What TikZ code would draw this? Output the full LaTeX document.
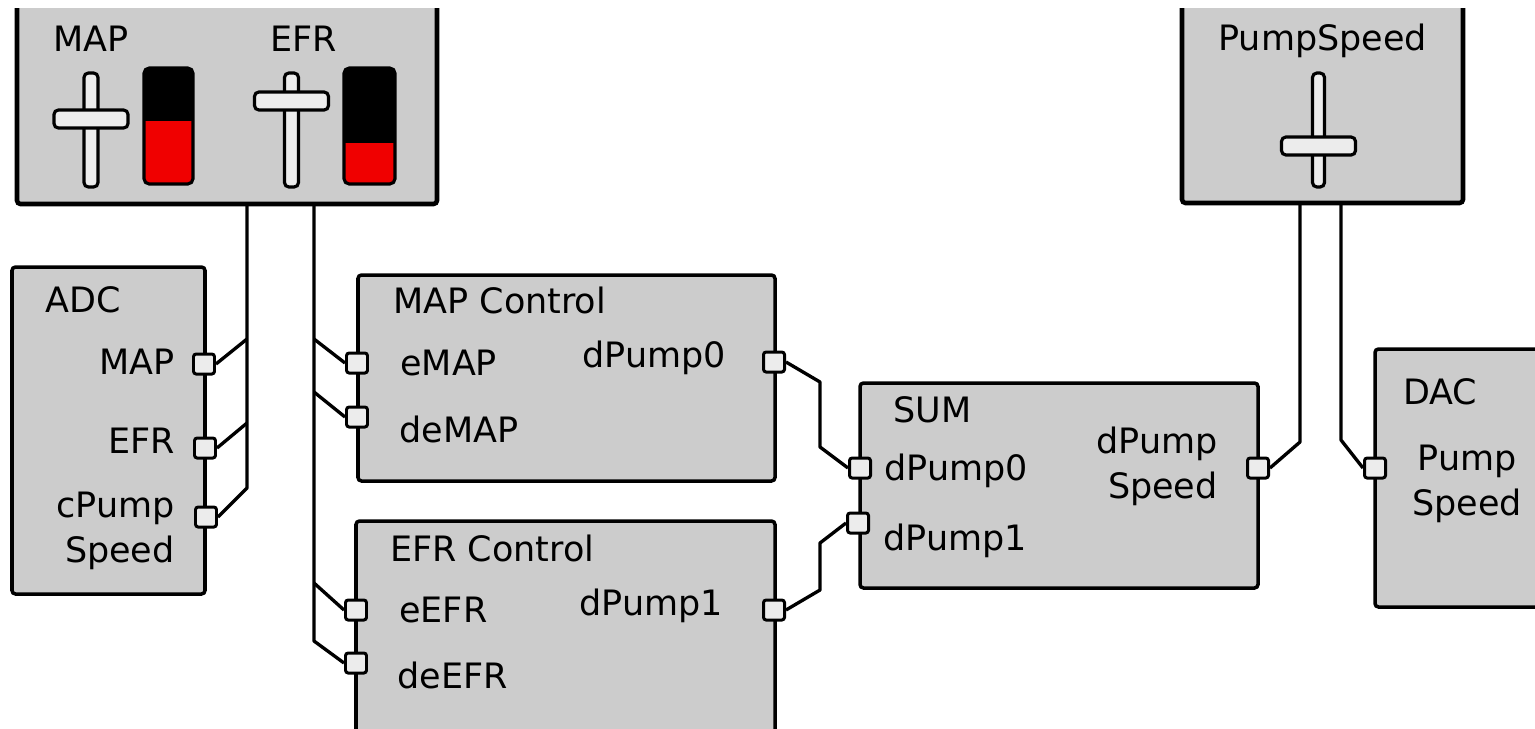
\documentclass[tikz,border=0pt]{standalone}
\usepackage{fontspec}
\setmainfont{DejaVu Sans}
\usepackage{tikz}
\usetikzlibrary{calc}
\definecolor{block-gray}{RGB}{204,204,204}
\definecolor{knob-gray}{RGB}{236,236,236}
\definecolor{meter-red}{RGB}{240,0,0}
\tikzstyle{block}=[draw, line width=2pt, fill=block-gray, rounded corners=2pt]
\tikzstyle{panel}=[draw, line width=2.6pt, fill=block-gray, rounded corners=2pt]
\tikzstyle{port}=[draw, line width=1.7pt, fill=knob-gray, rounded corners=1.5pt, minimum width=0.42cm, minimum height=0.4cm, inner sep=0pt]
\tikzstyle{wire}=[line width=1.9pt, line join=round]
\tikzstyle{knob}=[draw, line width=1.8pt, fill=knob-gray, rounded corners=2.5pt]
\tikzstyle{lbl}=[inner sep=0pt, font=\fontsize{19.9}{25.6}\selectfont]
\newcommand{\sliderNknob}[5]{
	\draw[knob] (#1-#2,73) rectangle (#1+#2,187);
	\draw[knob] (#1-37,#3) rectangle (#1+37,#4);
	\coordinate (#5) at (#1,#3);
}
\newcommand{\meterNbar}[3]{
	\begin{scope}
		\clip[rounded corners=3pt] (#1,68) rectangle (#2,184);
		\fill[black] (#1,68) rectangle (#2,184);
		\fill[meter-red] (#1,#3) rectangle (#2,184);
	\end{scope}
	\draw[line width=1.8pt, rounded corners=3pt] (#1,68) rectangle (#2,184);
}

\begin{document}
\begin{tikzpicture}[x=0.02cm, y=-0.02cm]
	\useasboundingbox (0,0) rectangle (1535,728);
	\clip (0,8) rectangle (1535,728);
	% input panels
	\draw[panel] (17,-20) rectangle (437,204);
	\draw[panel] (1182,-20) rectangle (1463,203);
	\node[lbl, anchor=base west] (panelMap) at (53,51) {MAP};
	\node[lbl, anchor=base west] (panelEfr) at (270,51) {EFR};
	\node[lbl, anchor=base west] (panelPump) at (1218,50) {PumpSpeed};
	\sliderNknob{91}{7}{110}{128}{knobMap}
	\meterNbar{144}{193}{121}
	\sliderNknob{291.5}{7}{92}{110}{knobEfr}
	\meterNbar{344}{395}{143}
	\sliderNknob{1318.5}{6}{137}{155}{knobPump}
	% blocks
	\draw[block] (12,267) rectangle (205,594);
	\draw[block] (358,275) rectangle (775,481);
	\draw[block] (356,521) rectangle (775,760);
	\draw[block] (860,383) rectangle (1258,588);
	\draw[block] (1375,349) rectangle (1580,607);
	% titles
	\node[lbl, anchor=base west] (adcTitle) at (45,312) {ADC};
	\node[lbl, anchor=base west] (mapCtlTitle) at (393,313) {MAP Control};
	\node[lbl, anchor=base west] (efrCtlTitle) at (390,561) {EFR Control};
	\node[lbl, anchor=base west] (sumTitle) at (893,422) {SUM};
	\node[lbl, anchor=base west] (dacTitle) at (1403,404) {DAC};
	% port labels
	\node[lbl, anchor=base east] (adcMapLbl) at (175,374) {MAP};
	\node[lbl, anchor=base east] (adcEfrLbl) at (175,453) {EFR};
	\node[lbl, anchor=base east, align=right] (adcPumpLbl) at (175,562) {cPump\\Speed};
	\node[lbl, anchor=base west] (eMapLbl) at (400,375) {eMAP};
	\node[lbl, anchor=base west] (deMapLbl) at (399,442) {deMAP};
	\node[lbl, anchor=base east] (dPumpZeroLbl) at (726,367) {dPump0};
	\node[lbl, anchor=base west] (eEfrLbl) at (399,622) {eEFR};
	\node[lbl, anchor=base west] (deEfrLbl) at (397,688) {deEFR};
	\node[lbl, anchor=base east] (dPumpOneLbl) at (723,615) {dPump1};
	\node[lbl, anchor=base west] (sumInZeroLbl) at (884,480) {dPump0};
	\node[lbl, anchor=base west] (sumInOneLbl) at (883,550) {dPump1};
	\node[lbl, anchor=base east, align=right] (sumOutLbl) at (1218,498) {dPump\\Speed};
	\node[lbl, anchor=base, align=center] (dacInLbl) at (1467,515) {Pump\\Speed};
	% ports
	\node[port] (adcMap) at (204,364) {};
	\node[port] (adcEfr) at (205,448) {};
	\node[port] (adcPump) at (206,517) {};
	\node[port] (eMap) at (357,363) {};
	\node[port] (deMap) at (357,417) {};
	\node[port] (dPumpZero) at (774,362) {};
	\node[port] (eEfr) at (356,610) {};
	\node[port] (deEfr) at (356,663) {};
	\node[port] (dPumpOne) at (774,610) {};
	\node[port] (sumInZero) at (860,468) {};
	\node[port] (sumInOne) at (858,523) {};
	\node[port] (sumOut) at (1258,468) {};
	\node[port] (dacIn) at (1375,468) {};
	% wires
	\coordinate (tapA) at (247,204);
	\coordinate (tapA1) at (247,339);
	\coordinate (tapA2) at (247,423);
	\coordinate (tapA3) at (247,488);
	\coordinate (tapB) at (314,204);
	\coordinate (tapB1) at (314,339);
	\coordinate (tapB2) at (314,392);
	\coordinate (tapB3) at (314,583);
	\coordinate (tapB4) at (314,641);
	\draw[wire] (tapA) -- (tapA3) -- (adcPump.east);
	\draw[wire] (tapA1) -- (adcMap.east);
	\draw[wire] (tapA2) -- (adcEfr.east);
	\draw[wire] (tapB) -- (tapB4) -- (deEfr.west);
	\draw[wire] (tapB1) -- (eMap.west);
	\draw[wire] (tapB2) -- (deMap.west);
	\draw[wire] (tapB3) -- (eEfr.west);
	\coordinate (bendA1) at (820,382);
	\coordinate (bendA2) at (820,447);
	\coordinate (bendB1) at (820,590);
	\coordinate (bendB2) at (820,543);
	\draw[wire] (dPumpZero.east) -- (bendA1) -- (bendA2) -- (sumInZero.west);
	\draw[wire] (dPumpOne.east) -- (bendB1) -- (bendB2) -- (sumInOne.west);
	\coordinate (tapC) at (1300,203);
	\coordinate (tapC1) at (1300,442);
	\coordinate (tapD) at (1341,203);
	\coordinate (tapD1) at (1341,440);
	\draw[wire] (sumOut.east) -- (tapC1) -- (tapC);
	\draw[wire] (dacIn.west) -- (tapD1) -- (tapD);
\end{tikzpicture}
\end{document}
